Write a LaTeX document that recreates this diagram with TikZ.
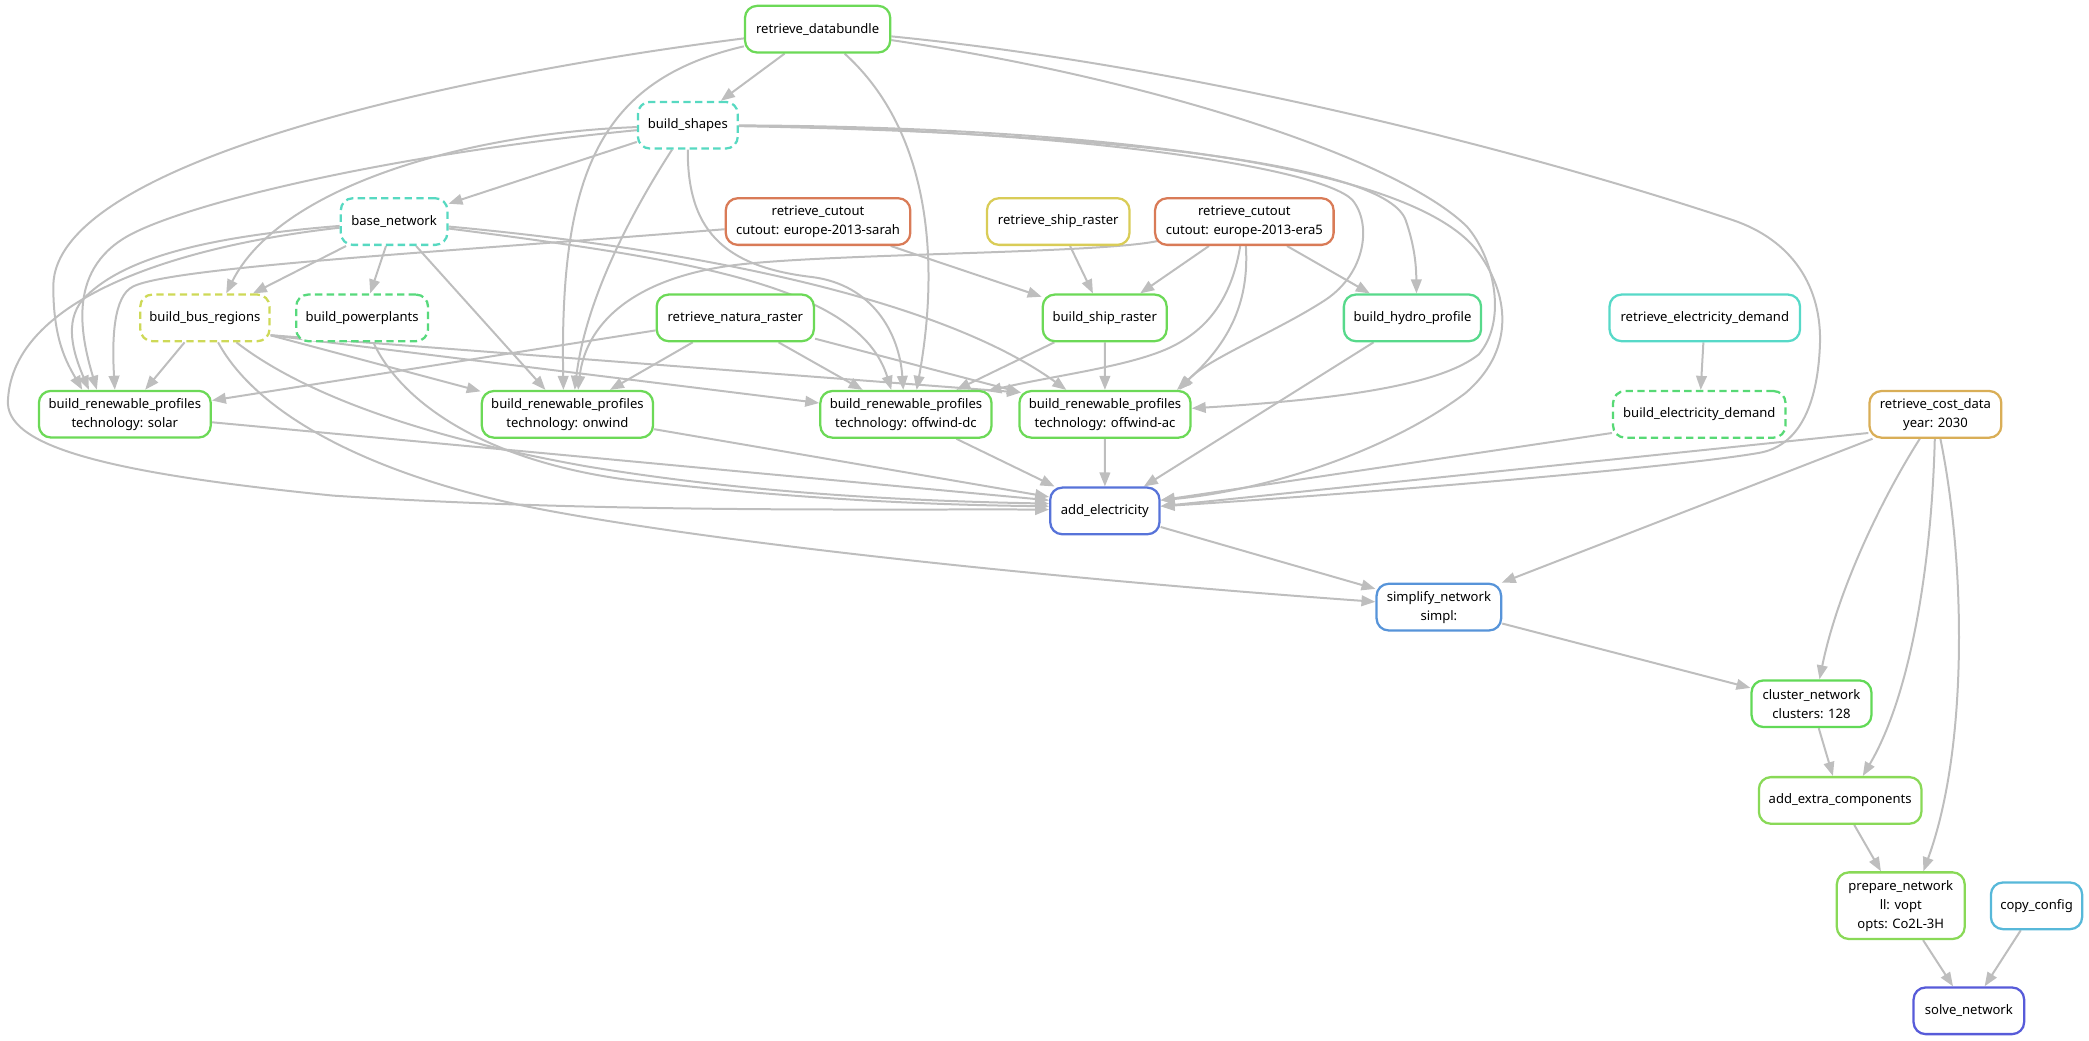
\documentclass[tikz,border=0pt]{standalone}
\usepackage{fontspec}
\setmainfont{Noto Sans}
\usepackage{xcolor}
\usetikzlibrary{arrows.meta, backgrounds}

\definecolor{edgegray}{RGB}{190,190,190}
\definecolor{cgreen}{HTML}{6CD957}
\definecolor{cgreenb}{HTML}{62D957}
\definecolor{clime}{HTML}{89D957}
\definecolor{ccyan}{HTML}{57D9C1}
\definecolor{corange}{HTML}{D97B57}
\definecolor{cyellow}{HTML}{D9CC57}
\definecolor{cbus}{HTML}{CED957}
\definecolor{cplants}{HTML}{57D97C}
\definecolor{chydro}{HTML}{57D98B}
\definecolor{cdemand}{HTML}{57D9C8}
\definecolor{cload}{HTML}{57D975}
\definecolor{ccost}{HTML}{D9AE57}
\definecolor{cblue}{HTML}{5773D9}
\definecolor{csimpl}{HTML}{5794D9}
\definecolor{ccopy}{HTML}{57B8D9}
\definecolor{csolve}{HTML}{575BD9}

\begin{document}
\begin{tikzpicture}[x=1pt, y=-1pt,
    rulebox/.style={draw, line width=1.7pt, rounded corners=9pt, fill=white, align=center,
        inner sep=0pt, minimum height=35pt, font=\fontsize{9.8}{14.3}\selectfont},
    dashedrule/.style={rulebox, dash pattern=on 5.5pt off 3.3pt},
    dep/.style={draw=edgegray, line width=1.5pt, -{Triangle[length=10.5pt, width=8pt]}}]
    \useasboundingbox (0,0) rectangle (1568,781);

    % Define the rules
    % Row 1 and 2
    \node[rulebox, draw=cgreen, minimum width=109pt] (databundle) at (613.7,21.9) {retrieve\_databundle};
    \node[dashedrule, draw=ccyan, minimum width=75pt] (shapes) at (516.3,94) {build\_shapes};

    % Row 3
    \node[dashedrule, draw=ccyan, minimum width=80pt] (basenet) at (295.8,166.3) {base\_network};
    \node[rulebox, draw=corange, minimum width=138.5pt] (sarah) at (614,166.3) {retrieve\_cutout\\cutout: europe-2013-sarah};
    \node[rulebox, draw=cyellow, minimum width=107pt] (retship) at (794.3,166.3) {retrieve\_ship\_raster};
    \node[rulebox, draw=corange, minimum width=134pt] (era5) at (934,166.3) {retrieve\_cutout\\cutout: europe-2013-era5};

    % Row 4
    \node[dashedrule, draw=cbus, minimum width=97pt] (busreg) at (153.8,238.6) {build\_bus\_regions};
    \node[dashedrule, draw=cplants, minimum width=99pt] (powerplants) at (271.8,238.6) {build\_powerplants};
    \node[rulebox, draw=cgreen, minimum width=118pt] (natura) at (551.9,238.6) {retrieve\_natura\_raster};
    \node[rulebox, draw=cgreen, minimum width=93pt] (shipraster) at (829.2,238.6) {build\_ship\_raster};
    \node[rulebox, draw=chydro, minimum width=103pt] (hydro) at (1060.2,238.6) {build\_hydro\_profile};
    \node[rulebox, draw=cdemand, minimum width=143pt] (retdemand) at (1279.6,238.6) {retrieve\_electricity\_demand};

    % Row 5
    \node[rulebox, draw=cgreen, minimum width=129pt] (solar) at (93.7,310.9) {build\_renewable\_profiles\\technology: solar};
    \node[rulebox, draw=cgreen, minimum width=128.5pt] (onwind) at (425.9,311) {build\_renewable\_profiles\\technology: onwind};
    \node[rulebox, draw=cgreen, minimum width=128.5pt] (offdc) at (680,311) {build\_renewable\_profiles\\technology: offwind-dc};
    \node[rulebox, draw=cgreen, minimum width=128.5pt] (offac) at (829.4,311) {build\_renewable\_profiles\\technology: offwind-ac};
    \node[dashedrule, draw=cload, minimum width=129.5pt] (elecdemand) at (1275.5,311) {build\_electricity\_demand};
    \node[rulebox, draw=ccost, minimum width=99pt] (cost) at (1452.7,311) {retrieve\_cost\_data\\year: 2030};

    % Network chain
    \node[rulebox, draw=cblue, minimum width=82pt] (addelec) at (829.3,383.5) {add\_electricity};
    \node[rulebox, draw=csimpl, minimum width=93.5pt] (simplify) at (1080,455.7) {simplify\_network\\simpl:};
    \node[rulebox, draw=cgreenb, minimum width=90pt] (cluster) at (1359.7,528.2) {cluster\_network\\clusters: 128};
    \node[rulebox, draw=clime, minimum width=122pt] (addextra) at (1381.2,600.8) {add\_extra\_components};
    \node[rulebox, draw=clime, minimum width=96pt, minimum height=50pt] (prepare) at (1426.7,679.8) {prepare\_network\\ll: vopt\\opts: Co2L-3H};
    \node[rulebox, draw=ccopy, minimum width=68.5pt] (copyconfig) at (1528.6,679.9) {copy\_config};
    \node[rulebox, draw=csolve, minimum width=83pt] (solve) at (1477.8,758.7) {solve\_network};

    % Draw the dependencies
    \begin{scope}[on background layer]
    % From retrieve_databundle
    \draw[dep] (databundle) -- (shapes);
    \draw[dep] (databundle) .. controls (350,55) and (40,120) .. (40,215) .. controls (40,255) and (50,272) .. ([xshift=-32pt]solar.north);
    \draw[dep] (databundle) .. controls (450,60) and (420,130) .. ([xshift=-3pt]onwind.north);
    \draw[dep] (databundle) .. controls (700,100) and (705,200) .. ([xshift=8pt]offdc.north);
    \draw[dep] (databundle) .. controls (870,60) and (1050,120) .. (1101,170) .. controls (1121,193) and (1132,240) .. (1110,266) .. controls (1080,290) and (1000,300) .. ([yshift=4.5pt]offac.east);
    \draw[dep] (databundle) .. controls (900,50) and (1150,115) .. (1300,165) .. controls (1345,180) and (1368,215) .. (1366,260) .. controls (1364,305) and (1350,335) .. (1320,340) .. controls (1250,352) and (1000,372) .. ([yshift=3.5pt]addelec.east);

    % From build_shapes
    \draw[dep] (shapes) -- (basenet);
    \draw[dep] (shapes) .. controls (350,100) and (210,140) .. ([xshift=16pt]busreg.north);
    \draw[dep] (shapes) .. controls (300,115) and (150,150) .. (100,175) .. controls (50,200) and (60,250) .. ([xshift=-21pt]solar.north);
    \draw[dep] (shapes) .. controls (480,150) and (440,220) .. ([xshift=5.5pt]onwind.north);
    \draw[dep] (shapes) .. controls (516,170) and (540,200) .. (610,208) .. controls (655,214) and (675,250) .. ([xshift=-2pt]offdc.north);
    \draw[dep] (shapes) .. controls (800,97) and (990,125) .. (1015,150) .. controls (1030,168) and (1025,205) .. (995,225) .. controls (960,248) and (905,270) .. ([xshift=56pt]offac.north);
    \draw[dep] (shapes) .. controls (850,100) and (1040,125) .. (1055,165) .. controls (1062,185) and (1063,200) .. ([xshift=3pt]hydro.north);
    \draw[dep] (shapes) .. controls (800,95) and (1060,120) .. (1110,190) .. controls (1135,225) and (1135,265) .. (1100,295) .. controls (1040,340) and (950,368) .. ([yshift=8pt]addelec.east);

    % From base_network
    \draw[dep] (basenet) -- (busreg);
    \draw[dep] (basenet) -- (powerplants);
    \draw[dep] (basenet) .. controls (150,178) and (90,195) .. (62,225) .. controls (48,242) and (55,265) .. ([xshift=-27pt]solar.north);
    \draw[dep] (basenet) -- (onwind);
    \draw[dep] (basenet) .. controls (520,195) and (645,215) .. ([xshift=-11pt]offdc.north);
    \draw[dep] (basenet) .. controls (500,185) and (700,220) .. ([xshift=-29pt]offac.north);
    \draw[dep] (basenet) .. controls (130,185) and (10,225) .. (6,300) .. controls (3,335) and (80,355) .. (250,372) .. controls (450,385) and (650,382) .. ([yshift=1pt]addelec.west);

    % From the cutouts and ship raster
    \draw[dep] (sarah) .. controls (350,188) and (130,200) .. (100,215) .. controls (85,222) and (84,255) .. ([xshift=-7.5pt]solar.north);
    \draw[dep] (sarah) -- (shipraster);
    \draw[dep] (retship) -- (shipraster);
    \draw[dep] (era5) -- (shipraster);
    \draw[dep] ([shift={(4pt,4pt)}]era5.south west) .. controls (830,190) and (640,190) .. (560,198) .. controls (480,206) and (440,240) .. ([xshift=8pt]onwind.north);
    \draw[dep] (era5) .. controls (925,220) and (910,245) .. (880,260) .. controls (850,275) and (790,282) .. ([xshift=-4pt, yshift=-1pt]offdc.north east);
    \draw[dep] (era5) .. controls (938,230) and (920,260) .. ([xshift=54pt]offac.north);
    \draw[dep] (era5) -- (hydro);

    % From build_bus_regions and build_powerplants
    \draw[dep] (busreg) -- (solar);
    \draw[dep] (busreg) -- (onwind);
    \draw[dep] ([yshift=-13pt]busreg.east) -- ([yshift=8.5pt]offdc.west);
    \draw[dep] ([yshift=-13pt]busreg.east) -- ([xshift=2pt, yshift=-2pt]offac.north west);
    \draw[dep] (busreg) .. controls (220,290) and (300,325) .. (440,350) .. controls (560,370) and (680,376) .. ([yshift=5.5pt]addelec.west);
    \draw[dep] (busreg) .. controls (195,315) and (290,362) .. (421,385) .. controls (560,410) and (800,435) .. ([yshift=4pt]simplify.west);
    \draw[dep] (powerplants) .. controls (300,300) and (360,345) .. (470,360) .. controls (600,375) and (700,379) .. ([yshift=3.5pt]addelec.west);

    % From retrieve_natura_raster
    \draw[dep] (natura) -- (solar);
    \draw[dep] (natura) -- (onwind);
    \draw[dep] (natura) -- (offdc);
    \draw[dep] (natura) -- ([xshift=2pt, yshift=-2pt]offac.north west);

    % From build_ship_raster, hydro and demand
    \draw[dep] (shipraster) -- (offdc);
    \draw[dep] (shipraster) -- (offac);
    \draw[dep] (hydro) -- (addelec);
    \draw[dep] (retdemand) -- (elecdemand);
    \draw[dep] ([yshift=-14pt]elecdemand.west) -- ([yshift=8pt]addelec.east);

    % From retrieve_cost_data
    \draw[dep] ([yshift=-14pt]cost.west) -- ([yshift=3.5pt]addelec.east);
    \draw[dep] (cost) -- (simplify);
    \draw[dep] (cost) .. controls (1415,370) and (1380,440) .. ([xshift=6pt]cluster.north);
    \draw[dep] (cost) .. controls (1450,420) and (1435,520) .. ([xshift=17pt]addextra.north);
    \draw[dep] (cost) .. controls (1475,420) and (1478,560) .. ([xshift=17pt]prepare.north);

    % Profiles into add_electricity
    \draw[dep] (solar) -- ([yshift=8pt]addelec.west);
    \draw[dep] (onwind) -- ([yshift=10.5pt]addelec.west);
    \draw[dep] (offdc) -- (addelec);
    \draw[dep] (offac) -- (addelec);

    % The network chain
    \draw[dep] (addelec) -- (simplify);
    \draw[dep] (simplify) -- (cluster);
    \draw[dep] (cluster) -- (addextra);
    \draw[dep] (addextra) -- (prepare);
    \draw[dep] (prepare) -- (solve);
    \draw[dep] (copyconfig) -- (solve);
    \end{scope}
\end{tikzpicture}
\end{document}
